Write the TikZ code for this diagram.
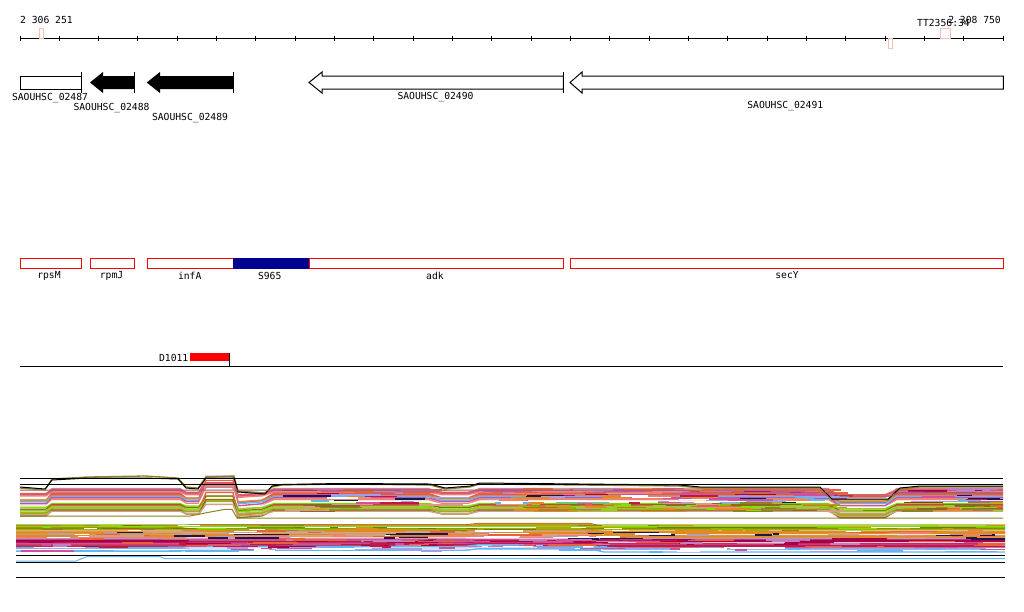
\documentclass[tikz,border=0pt]{standalone}
\usepackage{fontspec}
\newfontfamily\pixfont{DejaVu Sans Mono}
\definecolor{gpink}{HTML}{F5C0B0}
\definecolor{navyb}{HTML}{000090}
\definecolor{cOrRed}{HTML}{E8603C}
\definecolor{cSalmon}{HTML}{F08070}
\definecolor{cPink}{HTML}{D050A0}
\definecolor{cMaroon}{HTML}{A80048}
\definecolor{cLilac}{HTML}{C080C0}
\definecolor{cLav}{HTML}{A0A0E8}
\definecolor{cLBlue}{HTML}{60B8F0}
\definecolor{cGreen}{HTML}{80E000}
\definecolor{cYGreen}{HTML}{90B800}
\definecolor{cOrange}{HTML}{E08A20}
\definecolor{cTan}{HTML}{D0A080}
\definecolor{cNavy}{HTML}{181850}
\definecolor{cBrown}{HTML}{8A6A20}
\definecolor{cOlive}{HTML}{8C8420}
\definecolor{cGray}{HTML}{B0A0B8}
\definecolor{cCrimson}{HTML}{C01848}
\definecolor{cMauve}{HTML}{906070}
\pgfmathdeclarerandomlist{palA}{{cOrRed}{cSalmon}{cPink}{cLilac}{cMaroon}{cOrRed}{cTan}}
\pgfmathdeclarerandomlist{palB}{{cLBlue}{cNavy}{cCrimson}{cSalmon}{cOrange}{cLav}{cPink}{white}}
\pgfmathdeclarerandomlist{palC}{{cOlive}{cGreen}{cOrange}{cTan}{cBrown}{cYGreen}{cOrRed}}
\pgfmathdeclarerandomlist{palD}{{cGreen}{cOlive}{cYGreen}{cOrange}{cBrown}{white}}
\pgfmathdeclarerandomlist{palE}{{cOrRed}{cSalmon}{cTan}{cGray}{cNavy}{cOrange}{white}}
\pgfmathdeclarerandomlist{palF}{{cMaroon}{cPink}{cCrimson}{cLilac}{cOrRed}}
\pgfmathdeclarerandomlist{palG}{{cLav}{cLBlue}{cPink}{white}}
\newcommand{\upline}[3]{\draw[dl,color=#2] (20,{#1+6*#3}) -- (46,{#1+6*#3}) -- (52,#1) -- (180,#1) -- (186,{#1+4*#3}) -- (199,{#1+4*#3}) -- (206,{#1-11*#3}) -- (233,{#1-11*#3}) -- (238,{#1+8*#3}) -- (262,{#1+6*#3}) -- (274,#1) -- (428,#1) -- (442,{#1+4*#3}) -- (468,{#1+4*#3}) -- (480,#1) -- (828,#1) -- (840,{#1+8*#3}) -- (885,{#1+8*#3}) -- (897,#1) -- (1003,#1);}
\newcommand{\lowline}[3]{\draw[dl,color=#2] (16,#1) -- (180,#1) -- (190,{#1-1*#3}) -- (465,{#1-1*#3}) -- (478,{#1-2.5*#3}) -- (590,{#1-2.5*#3}) -- (604,{#1+1*#3}) -- (1005,{#1+1*#3});}
\begin{document}
\begin{tikzpicture}[x=1pt,y=-1pt,
  lbl/.style={font=\pixfont\fontsize{9.7}{10}\selectfont, inner sep=0pt},
  ol/.style={line width=1pt, black},
  rbox/.style={draw=red, line width=1pt},
  dl/.style={line width=1.4pt}]
\useasboundingbox[fill=white] (0,0) rectangle (1024,611);
\pgfmathsetseed{12345}
% ruler
\draw[ol] (20,38) -- (1003,38);
\foreach \k in {0,...,25} \draw[ol] ({20+\k*39.32},35.5) -- ++(0,5);
\draw[gpink, line width=0.8pt] (39.3,28.7) rectangle (43.3,38);
\draw[gpink, line width=0.8pt] (888.3,38) rectangle (892.7,48.7);
\draw[gpink, line width=0.8pt] (940.7,28.3) rectangle (950.3,38.7);
\node[lbl, anchor=west] (start) at (20,20) {2 306 251};
\node[lbl, anchor=east] (end) at (1001,20) {2 308 750};
\node[lbl, anchor=west] (tt) at (917,22.5) {TT2356:34};
% genes
\draw[ol, fill=white] (20.5,76) rectangle (81,89);
\draw[ol] (81,72) -- (81,93);
\fill[black] (90,82.5) -- (103,72) -- (103,76) -- (134,76) -- (134,89) -- (103,89) -- (103,93) -- cycle;
\draw[ol] (134,72) -- (134,93);
\fill[black] (146.7,82.5) -- (160,72) -- (160,76) -- (233.3,76) -- (233.3,89) -- (160,89) -- (160,93) -- cycle;
\draw[ol] (233.3,72) -- (233.3,93);
\draw[ol, fill=white, line join=miter] (309,82.5) -- (322,72) -- (322,76) -- (563.3,76) -- (563.3,89) -- (322,89) -- (322,93) -- cycle;
\draw[ol] (563.3,72) -- (563.3,93);
\draw[ol, fill=white] (570,82.5) -- (582,72) -- (582,76) -- (1003.3,76) -- (1003.3,89) -- (582,89) -- (582,93) -- cycle;
\node[lbl] (g87) at (50,98.5) {SAOUHSC\_02487};
\node[lbl] (g88) at (111.5,107.7) {SAOUHSC\_02488};
\node[lbl] (g89) at (190,118) {SAOUHSC\_02489};
\node[lbl] (g90) at (435.5,97.5) {SAOUHSC\_02490};
\node[lbl] (g91) at (785.3,106.5) {SAOUHSC\_02491};
% red boxes
\draw[rbox] (20.3,258.3) rectangle (81.7,268.3);
\draw[rbox] (90,258.3) rectangle (134.7,268.3);
\draw[rbox] (147.3,258.3) rectangle (233,268.3);
\draw[rbox] (309.3,258.3) rectangle (563.3,268.3);
\draw[rbox] (570,258.3) rectangle (1003,268.3);
\fill[navyb] (233,257.8) rectangle (309.3,268.8);
\node[lbl] (rpsM) at (49,275.5) {rpsM};
\node[lbl] (rpmJ) at (111.5,275.5) {rpmJ};
\node[lbl] (infA) at (189.7,275.5) {infA};
\node[lbl] (S965) at (269.7,275.5) {S965};
\node[lbl] (adk) at (435,275.5) {adk};
\node[lbl] (secY) at (787,275.5) {secY};
% D1011
\fill[red] (190,353.3) rectangle (229.7,361.3);
\draw[black, line width=0.6pt] (229.7,353.3) -- (229.7,366);
\node[lbl, anchor=east] (d1011) at (188.5,357.5) {D1011};
\draw[ol] (20,366.3) -- (1003,366.3);
% upper cluster
\foreach \yv in {488.5,489.7,...,495} {\pgfmathrandomitem{\mycol}{palA}\pgfmathsetmacro{\amp}{0.6+0.7*rnd}\upline{\yv}{\mycol}{\amp}}
\foreach \yv in {495.5,496.6,...,503} {\pgfmathrandomitem{\mycol}{palB}\pgfmathsetmacro{\amp}{0.6+0.7*rnd}\upline{\yv}{\mycol}{\amp}}
\foreach \yv in {503.5,504.6,...,511.5} {\pgfmathrandomitem{\mycol}{palC}\pgfmathsetmacro{\amp}{0.6+0.7*rnd}\upline{\yv}{\mycol}{\amp}}
\foreach \i in {1,...,260} {
  \pgfmathsetmacro{\ys}{488.5+23*rnd}
  \pgfmathsetmacro{\rr}{rnd}
  \pgfmathsetmacro{\xs}{\rr<0.15 ? 276+150*rnd : (\rr<0.85 ? 482+345*rnd : 898+100*rnd)}
  \pgfmathsetmacro{\xe}{min(\xs+6+45*rnd,1003)}
  \ifdim\ys pt<495pt \pgfmathrandomitem{\mycol}{palA}\else\ifdim\ys pt<503pt \pgfmathrandomitem{\mycol}{palB}\else\pgfmathrandomitem{\mycol}{palC}\fi\fi
  \draw[dl, color=\mycol] (\xs,\ys) -- (\xe,\ys);
}
% top traces
\draw[cOlive, line width=1.3pt] (20,488) -- (45,490) -- (52,479) -- (88,477) -- (145,476) -- (178,478) -- (186,487) -- (198,488) -- (206,477) -- (234,476) -- (238,491) -- (265,493) -- (272,487) -- (282,485) -- (340,484) -- (430,485) -- (445,489) -- (470,487) -- (480,484) -- (680,486) -- (700,488) -- (820,488) -- (832,500) -- (888,500) -- (900,489) -- (920,487) -- (1003,487);
\draw[black, line width=1pt] (20,487) -- (45,489) -- (52,480) -- (88,478) -- (145,478) -- (178,479) -- (186,488) -- (198,489) -- (206,478) -- (234,478) -- (238,492) -- (265,494) -- (272,486) -- (282,484.5) -- (340,483.5) -- (430,484) -- (445,488) -- (470,486) -- (480,483) -- (680,485) -- (700,487) -- (820,487) -- (832,499) -- (888,499) -- (900,488) -- (920,486) -- (1003,486);
\draw[cMauve, line width=1pt] (20,490) -- (680,490) -- (700,492) -- (830,492) -- (840,496) -- (890,496) -- (900,492) -- (1003,493);
\draw[cOlive, line width=1pt] (20,516) -- (190,516) -- (205,513) -- (225,509.3) -- (232,509.3) -- (237,518) -- (1003,518);
\draw[ol] (20,478.3) -- (1003,478.3);
\draw[ol] (20,484.3) -- (1003,484.3);
% lower cluster
\foreach \yv in {525,526.1,...,530.5} {\pgfmathrandomitem{\mycol}{palD}\pgfmathsetmacro{\amp}{2*rnd-0.6}\lowline{\yv}{\mycol}{\amp}}
\foreach \yv in {531,532.1,...,539} {\pgfmathrandomitem{\mycol}{palE}\pgfmathsetmacro{\amp}{2*rnd-0.6}\lowline{\yv}{\mycol}{\amp}}
\foreach \yv in {539.5,540.6,...,547} {\pgfmathrandomitem{\mycol}{palF}\pgfmathsetmacro{\amp}{2*rnd-0.6}\lowline{\yv}{\mycol}{\amp}}
\foreach \yv in {547.5,548.7,...,552} {\pgfmathrandomitem{\mycol}{palG}\pgfmathsetmacro{\amp}{2*rnd-0.6}\lowline{\yv}{\mycol}{\amp}}
\foreach \i in {1,...,320} {
  \pgfmathsetmacro{\ys}{525+27*rnd}
  \pgfmathsetmacro{\xs}{16+985*rnd}
  \pgfmathsetmacro{\xe}{min(\xs+6+50*rnd,1005)}
  \ifdim\ys pt<531pt \pgfmathrandomitem{\mycol}{palD}\else\ifdim\ys pt<539pt \pgfmathrandomitem{\mycol}{palE}\else\ifdim\ys pt<547pt \pgfmathrandomitem{\mycol}{palF}\else\pgfmathrandomitem{\mycol}{palG}\fi\fi\fi
  \draw[dl, color=\mycol] (\xs,\ys) -- (\xe,\ys);
}
\draw[cGreen, line width=1.3pt] (16,526.7) -- (1005,526.7);
\draw[cLBlue, line width=1pt] (16,561) -- (76,561) -- (87,556.5) -- (160,556.5) -- (165,558.7) -- (1005,558.7);
\draw[ol] (16,555.7) -- (1005,555.7);
\draw[ol] (16,562.3) -- (1005,562.3);
\draw[ol] (16,577.3) -- (1005,577.3);
\end{tikzpicture}
\end{document}
